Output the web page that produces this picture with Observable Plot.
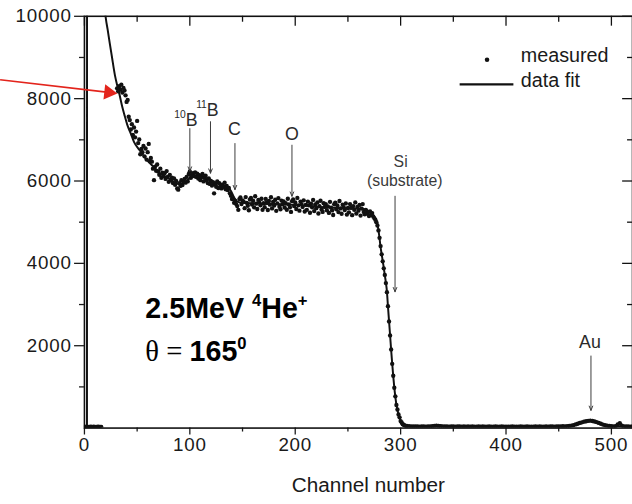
<!DOCTYPE html>
<html>
<head>
<meta charset="utf-8">
<script src="https://cdn.jsdelivr.net/npm/d3@7"></script>
<script src="https://cdn.jsdelivr.net/npm/@observablehq/plot@0.6"></script>
<style>
html,body{margin:0;padding:0;background:#fff;overflow:hidden;width:632px;height:504px}
#chart{width:632px;height:504px;overflow:hidden;position:relative}
#chart svg{display:block}
g[aria-label="y-axis tick label"] text, g[aria-label="x-axis tick label"] text{letter-spacing:0.8px}
</style>
</head>
<body>
<div id="chart"></div>
<script>
// ---------- axis ticks ----------
const xMajor = [0, 100, 200, 300, 400, 500];
const xMinor = [50, 150, 250, 350, 450];
const yMajor = [2000, 4000, 6000, 8000, 10000];
const yMinor = [1000, 3000, 5000, 7000, 9000];

// ---------- measured spectrum (counts per channel) ----------
// channels 0..16 : below the discriminator
const zeroStart = 0;
const zeroVal = [30,25,35,20,30,28,32,25,30,35,22,30,27,33,25,30,28];
// channels 31..305, one value per channel
const measStart = 31;
const measVal = [
 8250,8180,8300,8220,8340,8150,8260,8200,8080,7920,
 7970,7560,7480,7250,7380,7120,7300,7060,7200,7460,
 6920,7010,6650,6780,6700,6850,6600,6790,6520,6700,
 6900,6480,6560,6470,6300,6020,6350,6250,6400,6230,
 6150,6300,6080,6200,6120,6190,6050,6240,6100,5980,
 6150,6020,6080,5950,6060,5910,6000,5820,5790,5950,
 5880,6020,5900,5980,6050,5960,6100,5990,6170,6230,
 6080,6150,6190,6120,6210,6100,6180,6060,6140,6020,
 6100,6170,5990,6080,6130,6010,5950,6060,5930,6000,
 5890,5970,5700,5920,5860,5990,5830,5950,5880,5820,
 5910,5860,5960,5800,5880,5780,5830,5700,5640,5560,
 5580,5470,5520,5440,5390,5300,5560,5600,5440,5530,
 5500,5340,5610,5470,5400,5290,5550,5590,5430,5520,
 5360,5630,5450,5320,5540,5480,5410,5570,5300,5460,
 5365,5565,5475,5295,5515,5425,5605,5335,5495,5405,
 5545,5275,5455,5585,5375,5315,5525,5435,5505,5355,
 5460,5300,5570,5430,5360,5250,5510,5550,5390,5480,
 5320,5590,5410,5280,5500,5440,5370,5530,5260,5420,
 5300,5500,5410,5230,5450,5360,5540,5270,5430,5340,
 5480,5210,5390,5520,5310,5250,5460,5370,5440,5290,
 5385,5225,5495,5355,5285,5175,5435,5475,5315,5405,
 5245,5515,5335,5205,5425,5365,5295,5455,5185,5345,
 5240,5440,5350,5170,5390,5300,5480,5210,5370,5280,
 5420,5160,5330,5440,5250,5190,5300,5210,5250,5150,
 5260,5180,5220,5140,5100,5060,5000,4920,4800,4620,
 4420,4220,4050,3880,3720,3520,3300,2960,2590,2250,
 1910,1560,1270,980,770,560,450,330,260,170,
 135,90,80,60,55
];
// channels 306..520, every second channel
const tailStart = 306, tailStep = 2;
const tailVal = [
 50,45,42,40,38,42,36,40,38,35,
 40,42,48,55,58,52,45,40,38,42,
 36,40,38,35,40,37,34,38,36,40,
 35,38,36,33,37,35,39,34,36,38,
 35,33,37,36,34,38,35,33,36,34,
 37,35,33,36,38,34,35,37,33,36,
 34,37,35,38,36,34,37,35,38,40,
 36,39,42,40,44,42,48,52,60,72,
 88,105,125,140,155,165,175,180,172,160,
 145,125,105,85,70,58,50,45,42,48,
 90,120,60,42,38,40,36,38
];

// ---------- simulated data fit ----------
const fitCh = [0,2.4,2.8,8,12,16,18.5,20.3,22,24,26,29,31,33,36,38,40.6,44,47,52,58,65,73,80,89,95,100,
 104,108,112,116,120,126,132,136,139,142,145,150,170,200,230,250,262,268,272,275,
 278,279,280,281,282,283,284,285,286,287,288,289,290,291,292,293,294,295,296,297,
 298,299,300,301,302,303,305,308,314,330,337,345,400,450,462,470,476,481,486,492,497,505,512,520];
const fitVal = [0,0,60000,20000,14000,11300,10400,9950,9680,9350,9030,8560,8330,8130,7790,7600,7370,7150,6950,6760,6550,6360,6160,6060,5930,5970,6070,
 6130,6110,6080,6070,6010,5940,5890,5860,5760,5600,5500,5470,5450,5420,5360,5330,5330,5290,5220,5130,
 4960,4800,4610,4390,4230,4060,3900,3710,3540,3320,2950,2600,2260,1900,1570,1260,990,760,570,440,
 340,250,180,130,95,72,55,45,38,40,55,42,38,40,50,110,160,178,150,90,55,45,40,40];

// ---------- element annotations ----------
const elNames   = ["^{10}B", "^{11}B", "C",   "O",   "Si",  "(substrate)", "Au"];
const elLabelCh = [96.2,     116.7,    142.2, 196.9, 300,   304,           479.6];
const elLabelV  = [7344,     7584,     7110,  6990,  6350,  5880,          1951];
const arrowCh   = [100, 119.6, 142.8, 196.9, 294.7, 480.6];
const arrowTop  = [7272, 7440, 6910, 6870, 5630, 1750];
const arrowTip  = [6240, 6190, 5790, 5630, 3310, 430];

// red pointer arrow
const redFrom = {ch: -80, v: 8460};
const redHead = {ch: 23.0, v: 8152};

// legend
const legendLabels = ["measured", "data fit"];
const legendDot = {ch: 382, v: 8945};
const legendLine = {ch1: 356, ch2: 407, v: 8345};
const legendTextCh = 414, legendTextV = [8880, 8285];

// ---------- tables ----------
const measured = [
  ...zeroVal.map((v, i) => ({ch: zeroStart + i, v})),
  ...measVal.map((v, i) => ({ch: measStart + i, v})),
  ...tailVal.map((v, i) => ({ch: tailStart + i * tailStep, v}))
];
const fit = fitCh.map((ch, i) => ({ch, v: fitVal[i]}));
const labels = elNames.map((t, i) => ({t, ch: elLabelCh[i], v: elLabelV[i]}));
const arrows = arrowCh.map((ch, i) => ({ch, top: arrowTop[i], tip: arrowTip[i]}));
const bigLabels = labels.filter(d => ["^{10}B", "^{11}B", "C", "O"].includes(d.t));
const siLabels = labels.filter(d => d.t === "Si" || d.t === "(substrate)");
const auLabels = labels.filter(d => d.t === "Au");
const legendText = legendLabels.map((t, i) => ({t, ch: legendTextCh, v: legendTextV[i]}));

const FONT = "'Liberation Sans', Arial, Helvetica, sans-serif";
const INK = "#111";

const plot = Plot.plot({
  width: 640, height: 504,
  marginLeft: 85, marginRight: 0, marginTop: 16, marginBottom: 71,
  style: {fontFamily: FONT, background: "#fff", overflow: "visible", color: "#1a1a1a"},
  x: {domain: [0, 520]},
  y: {domain: [0, 10000]},
  marks: [
    // axes
    Plot.axisY({ticks: yMajor, tickSize: 10, tickPadding: 3, fontSize: 19, label: null, strokeWidth: 1.3, tickFormat: d3.format("d")}),
    Plot.axisY({ticks: yMinor, tickSize: 5, tickFormat: () => "", label: null, strokeWidth: 1.3}),
    Plot.axisX({ticks: xMajor, tickSize: 7, tickPadding: 3, fontSize: 19, label: null, strokeWidth: 1.3, tickFormat: d3.format("d")}),
    Plot.axisX({ticks: xMinor, tickSize: 4, tickFormat: () => "", label: null, strokeWidth: 1.3}),
    Plot.tickX(xMajor, {x: d => d, insetBottom: 407, stroke: INK, strokeWidth: 1.3}),
    Plot.tickX(xMinor, {x: d => d, insetBottom: 411, stroke: INK, strokeWidth: 1.3}),
    Plot.tickY(yMajor, {y: d => d, insetLeft: 545, stroke: INK, strokeWidth: 1.3}),
    Plot.tickY(yMinor, {y: d => d, insetLeft: 550, stroke: INK, strokeWidth: 1.3}),
    Plot.frame({stroke: INK, strokeWidth: 1.6}),
    Plot.text(["Channel number"], {text: d => d, frameAnchor: "bottom", dx: 10, dy: 65, lineAnchor: "bottom", fontSize: 21, fill: "#1a1a1a"}),

    // data
    Plot.dot(measured, {x: "ch", y: "v", r: 2.2, fill: INK, stroke: "none", clip: true}),
    Plot.line(fit, {x: "ch", y: "v", curve: "monotone-x", stroke: INK, strokeWidth: 2, clip: true}),

    // element annotations
    Plot.arrow(arrows, {x1: "ch", x2: "ch", y1: "top", y2: "tip", stroke: "#3a3a3a", strokeWidth: 1, headLength: 7, headAngle: 45}),
    Plot.text(bigLabels, {x: "ch", y: "v", text: "t", fontSize: 18, lineAnchor: "bottom", fill: "#2a2a2a"}),
    Plot.text(siLabels, {x: "ch", y: "v", text: "t", fontSize: 16, lineAnchor: "bottom", fill: "#3a3a3a"}),
    Plot.text(auLabels, {x: "ch", y: "v", text: "t", fontSize: 18, lineAnchor: "bottom", fill: "#2a2a2a"}),

    // beam info
    Plot.text(["2.5MeV ^{4}He^{+}"], {text: d => d, frameAnchor: "top-left", dx: 61.7, dy: 305.7, lineAnchor: "bottom", textAnchor: "start", fontSize: 29, fontWeight: "bold", fill: "#000"}),
    Plot.text(["%{θ = }165^{0}"], {text: d => d, frameAnchor: "top-left", dx: 61.7, dy: 349, lineAnchor: "bottom", textAnchor: "start", fontSize: 29, fontWeight: "bold", fill: "#000"}),

    // red pointer
    Plot.link([redFrom], {x1: "ch", y1: "v", x2: () => redHead.ch, y2: () => redHead.v, stroke: "#e3241c", strokeWidth: 1.6}),
    Plot.dot([redHead], {x: "ch", y: "v", symbol: "triangle", r: 5.7, rotate: 96.6, fill: "#e3241c", stroke: "none"}),

    // legend
    Plot.dot([legendDot], {x: "ch", y: "v", r: 2.3, fill: INK}),
    Plot.link([legendLine], {x1: "ch1", x2: "ch2", y1: "v", y2: "v", stroke: INK, strokeWidth: 2.2}),
    Plot.text(legendText, {x: "ch", y: "v", text: "t", fontSize: 20, lineAnchor: "bottom", textAnchor: "start", fill: "#1a1a1a"})
  ]
});

// superscripts / symbol font inside text
const SVGNS = "http://www.w3.org/2000/svg";
function richText(el) {
  const s = el.textContent;
  if (!/[\^%]\{/.test(s)) return;
  const parts = s.split(/(\^\{[^}]*\}|%\{[^}]*\})/).filter(p => p.length);
  el.textContent = "";
  let raised = false;
  for (const p of parts) {
    const t = document.createElementNS(SVGNS, "tspan");
    if (p.startsWith("^{")) {
      t.textContent = p.slice(2, -1);
      t.setAttribute("font-size", "58%");
      if (!raised) t.setAttribute("dy", "-0.72em");
      raised = true;
    } else {
      if (p.startsWith("%{")) {
        t.textContent = p.slice(2, -1);
        t.setAttribute("font-family", "'Liberation Serif', 'Times New Roman', serif");
        t.setAttribute("font-weight", "normal");
        t.setAttribute("xml:space", "preserve");
        t.style.whiteSpace = "pre";
      } else {
        t.textContent = p;
      }
      if (raised) { t.setAttribute("dy", "0.42em"); raised = false; }
    }
    el.appendChild(t);
  }
}
plot.querySelectorAll("text").forEach(richText);

document.getElementById("chart").appendChild(plot);
</script>
</body>
</html>
